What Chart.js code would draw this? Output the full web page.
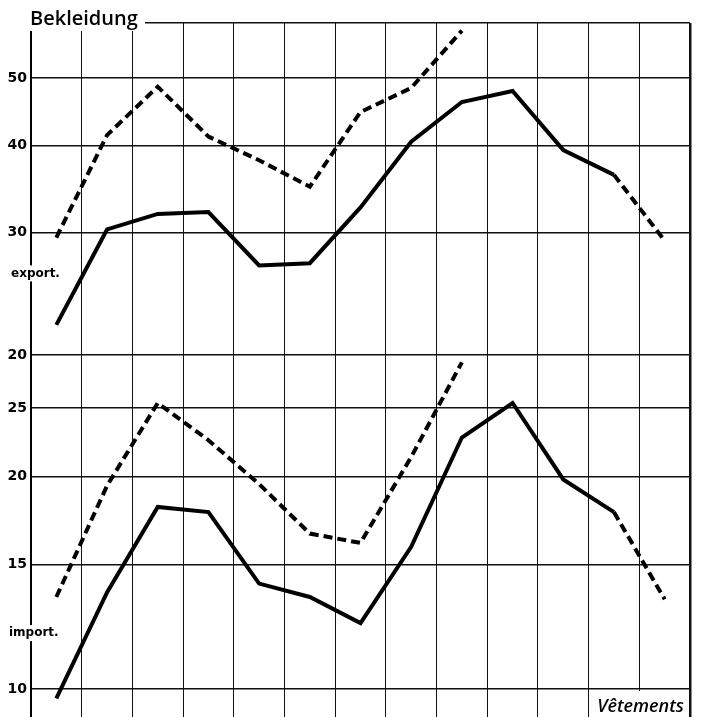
<!DOCTYPE html>
<html>
<head>
<meta charset="utf-8">
<script src="https://cdn.jsdelivr.net/npm/chart.js@4/dist/chart.umd.min.js"></script>
<style>
  html, body { margin: 0; padding: 0; background: #fff; }
  #wrap { width: 701px; height: 717px; }
</style>
</head>
<body>
<div id="wrap"><canvas id="chart" width="701" height="717"></canvas></div>
<script>
// 13 monthly points, no labels printed on the original
const months = ['1', '2', '3', '4', '5', '6', '7', '8', '9', '10', '11', '12', '13'];

// export (upper panel)
const exportSolid = [22.1, 30.3, 31.9, 32.1, 26.9, 27.1, 32.6, 40.5, 46.2, 47.9, 39.4, 36.3, 29.2];
const exportDashed = [29.5, 41.4, 48.6, 41.2, 38.1, 34.9, 44.7, 48.4, 58.5];

// import (lower panel)
const importSolid = [9.7, 13.7, 18.1, 17.8, 14.1, 13.5, 12.4, 15.9, 22.7, 25.4, 19.8, 17.8, 13.4];
const importDashed = [13.5, 19.4, 25.4, 22.5, 19.5, 16.6, 16.1, 21.3, 29.0];

const exportTicks = [20, 30, 40, 50, 60];
const importTicks = [10, 15, 20, 25];

const tickFont = { family: "'DejaVu Sans'", size: 14, weight: 'bold' };

// last segment of the solid line is drawn dashed
const tailDash = ctx => ctx.p1DataIndex === months.length - 1 ? [9, 5] : undefined;

// keep the y axes exactly 31px wide and without label padding at the ends
const fitY = s => {
    s.width = 31;
    s.paddingTop = 0;
    s.paddingBottom = 0;
};

const textPlugin = {
    id: 'texts',
    afterDraw(chart) {
        const ctx = chart.ctx;
        const yTop = chart.scales.yTop;
        const yBot = chart.scales.yBot;
        ctx.save();

        // title with the top rule running out of it
        ctx.fillStyle = '#fff';
        ctx.fillRect(27, 0, 118, 31);
        ctx.fillStyle = '#000';
        ctx.font = '600 20px "Open Sans"';
        ctx.textBaseline = 'alphabetic';
        ctx.textAlign = 'left';
        ctx.fillText('Bekleidung', 30, 25);

        // panel names
        ctx.font = 'bold 12px "DejaVu Sans"';
        ctx.textBaseline = 'middle';
        let y = yTop.getPixelForValue(26.2);
        ctx.fillStyle = '#fff';
        ctx.fillRect(10, y - 8, 56, 16);
        ctx.fillStyle = '#000';
        ctx.fillText('export.', 11, y);

        y = yBot.getPixelForValue(12.0);
        ctx.fillStyle = '#fff';
        ctx.fillRect(8, y - 8, 56, 16);
        ctx.fillStyle = '#000';
        ctx.fillText('import.', 9, y);

        // bottom right caption
        ctx.font = 'italic 600 18px "Open Sans"';
        ctx.textAlign = 'right';
        const right = chart.chartArea.right - 6;
        const w = ctx.measureText('Vêtements').width;
        ctx.fillStyle = '#fff';
        ctx.fillRect(right - w + 6, chart.chartArea.bottom - 26, w - 4, 26);
        ctx.fillStyle = '#000';
        ctx.fillText('Vêtements', right, chart.chartArea.bottom - 10);
        ctx.restore();
    }
};

function initChart() {
    const ctx = document.getElementById('chart').getContext('2d');
    new Chart(ctx, {
        type: 'line',
        data: {
            labels: months,
            datasets: [
                {
                    label: 'export',
                    data: exportSolid,
                    yAxisID: 'yTop',
                    borderColor: '#000',
                    borderWidth: 4,
                    segment: { borderDash: tailDash }
                },
                {
                    label: 'export (dashed)',
                    data: exportDashed,
                    yAxisID: 'yTop',
                    borderColor: '#000',
                    borderWidth: 4,
                    borderDash: [9, 5]
                },
                {
                    label: 'import',
                    data: importSolid,
                    yAxisID: 'yBot',
                    borderColor: '#000',
                    borderWidth: 4,
                    segment: { borderDash: tailDash }
                },
                {
                    label: 'import (dashed)',
                    data: importDashed,
                    yAxisID: 'yBot',
                    borderColor: '#000',
                    borderWidth: 4,
                    borderDash: [9, 5]
                }
            ]
        },
        options: {
            responsive: false,
            animation: false,
            devicePixelRatio: 1,
            layout: { padding: { top: 23, right: 11, left: 0, bottom: 0 } },
            elements: {
                point: { radius: 0 },
                line: { tension: 0, borderCapStyle: 'butt', borderJoinStyle: 'miter' }
            },
            plugins: {
                legend: { display: false },
                tooltip: { enabled: false }
            },
            scales: {
                x: {
                    type: 'category',
                    offset: true,
                    grid: {
                        offset: true,
                        drawTicks: false,
                        color: '#111',
                        lineWidth: c => c.index === undefined ? 2.5 : 1
                    },
                    border: { display: false },
                    ticks: { display: false },
                    afterFit: s => {
                        s.height = 0;
                        s.paddingLeft = 0;
                        s.paddingRight = 0;
                    }
                },
                yBot: {
                    type: 'logarithmic',
                    position: 'left',
                    stack: 'panels',
                    stackWeight: 362,
                    min: 9.13,
                    max: 29.7,
                    afterBuildTicks: s => { s.ticks = importTicks.map(v => ({ value: v })); },
                    ticks: {
                        autoSkip: false,
                        padding: 4,
                        color: '#000',
                        font: tickFont,
                        callback: v => String(v)
                    },
                    grid: { drawTicks: false, color: '#111', lineWidth: 1.4 },
                    border: { display: true, color: '#000', width: 2 },
                    afterFit: fitY
                },
                yTop: {
                    type: 'logarithmic',
                    position: 'left',
                    stack: 'panels',
                    stackWeight: 332,
                    min: 20,
                    max: 60,
                    afterBuildTicks: s => { s.ticks = exportTicks.map(v => ({ value: v })); },
                    ticks: {
                        autoSkip: false,
                        padding: 4,
                        color: '#000',
                        font: tickFont,
                        callback: v => v === 60 ? '' : String(v)
                    },
                    grid: { drawTicks: false, color: '#111', lineWidth: 1.4 },
                    border: { display: true, color: '#000', width: 2 },
                    afterFit: fitY
                }
            }
        },
        plugins: [textPlugin]
    });
}

document.addEventListener('DOMContentLoaded', () => {
    initChart();
});
</script>
</body>
</html>
